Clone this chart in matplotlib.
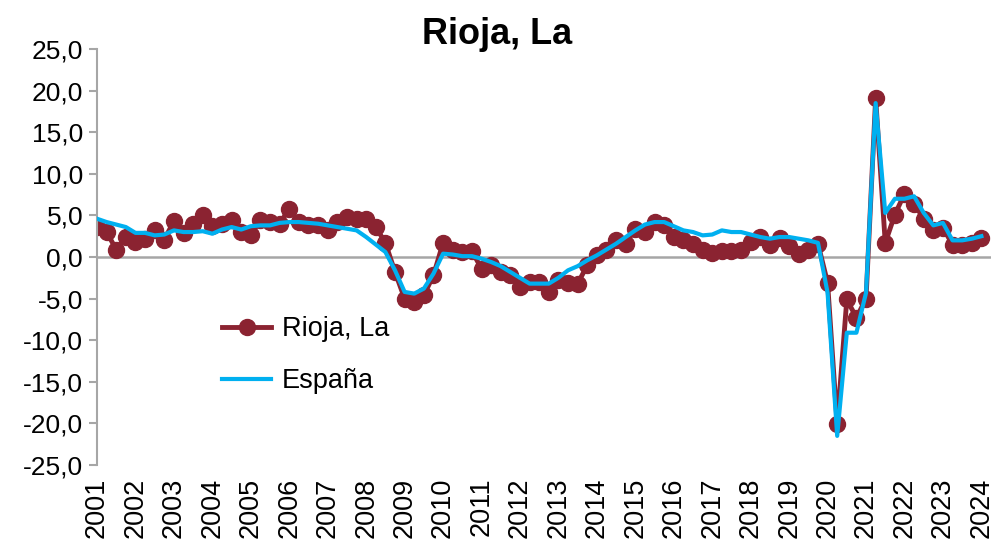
import matplotlib
matplotlib.use('Agg')
import matplotlib.pyplot as plt
import numpy as np

# trimestres 2001T1 .. 2024T1
years = list(range(2001, 2025))

rioja = [3.6, 3.0, 0.9, 2.4,
         1.8, 2.2, 3.2, 2.1,
         4.3, 2.9, 4.0, 5.1,
         3.7, 4.0, 4.4, 3.0,
         2.7, 4.4, 4.2, 4.0,
         5.8, 4.2, 3.8, 3.8,
         3.3, 4.2, 4.8, 4.6,
         4.6, 3.6, 1.7, -1.8,
         -5.0, -5.4, -4.6, -2.2,
         1.7, 0.8, 0.6, 0.7,
         -1.4, -1.0, -1.8, -2.2,
         -3.6, -3.0, -3.0, -4.2,
         -2.8, -3.1, -3.2, -1.0,
         0.2, 0.8, 2.0, 1.6,
         3.4, 3.0, 4.2, 3.8,
         2.4, 2.0, 1.6, 0.8,
         0.5, 0.7, 0.7, 0.8,
         1.8, 2.4, 1.5, 2.3,
         1.3, 0.4, 0.9, 1.6,
         -3.1, -20.1, -5.1, -7.3,
         -5.0, 19.1, 1.7, 5.1,
         7.6, 6.4, 4.6, 3.2,
         3.5, 1.5, 1.4, 1.7,
         2.3]

espana = [4.6, 4.2, 3.9, 3.6,
          2.9, 2.9, 2.6, 2.7,
          3.2, 3.0, 3.0, 3.1,
          2.8, 3.3, 3.6, 3.3,
          3.7, 3.8, 3.8, 4.1,
          4.2, 4.2, 4.1, 4.0,
          3.8, 3.6, 3.4, 3.2,
          2.4, 1.5, 0.6, -1.6,
          -4.2, -4.4, -3.8, -2.0,
          0.4, 0.3, 0.1, 0.1,
          -0.2, -0.6, -1.1, -1.8,
          -2.5, -3.2, -3.2, -3.2,
          -2.5, -1.6, -1.1, -0.4,
          0.2, 0.9, 1.6, 2.4,
          3.2, 3.9, 4.2, 4.2,
          3.7, 3.2, 3.0, 2.6,
          2.7, 3.2, 3.0, 3.0,
          2.7, 2.4, 2.2, 2.4,
          2.4, 2.2, 2.0, 1.7,
          -4.3, -21.5, -9.1, -9.1,
          -4.3, 18.5, 5.3, 7.0,
          7.0, 7.3, 5.3, 3.8,
          4.1, 2.0, 2.0, 2.2,
          2.5]

plt.rcParams['font.family'] = ['Liberation Sans', 'DejaVu Sans']

fig = plt.figure(figsize=(9.94, 5.47), dpi=100)
ax = fig.add_axes([97 / 994, 82 / 547, 894 / 994, 416 / 547])

x = np.arange(len(rioja))
ax.axhline(0, color='#a6a6a6', lw=1.8, zorder=1)
ax.plot(x, rioja, color='#8b2331', lw=3.5, marker='o', ms=11.5,
        label='Rioja, La', zorder=2)
ax.plot(x, espana, color='#00b0f0', lw=3.0, label='España', zorder=3)

ax.set_xlim(0, 93)
ax.set_ylim(-25, 25)

yt = np.arange(-25, 26, 5)
ax.set_yticks(yt)
ax.set_yticklabels([f'{v:.1f}'.replace('.', ',') for v in yt], fontsize=19)
ax.set_xticks(np.arange(0, len(rioja), 4))
ax.set_xticklabels([str(y) for y in years], rotation=90, fontsize=19.5)

for s in ['top', 'right', 'bottom']:
    ax.spines[s].set_visible(False)
ax.spines['left'].set_color('#a6a6a6')
ax.spines['left'].set_linewidth(1.5)
ax.tick_params(axis='y', direction='out', length=6, width=1.5,
               color='#a6a6a6', pad=4)
ax.tick_params(axis='x', length=0, pad=9)

fig.text(0.5, 1 - 35 / 547, 'Rioja, La', fontsize=26, fontweight='bold',
         ha='center', va='center')

ax.legend(loc='upper left', bbox_to_anchor=(198 / 994, 1 - 292 / 547),
          bbox_transform=fig.transFigure, frameon=False, fontsize=19.5,
          handlelength=1.8, labelspacing=0.95, handletextpad=0.4)

fig.savefig('out.png', dpi=100)
